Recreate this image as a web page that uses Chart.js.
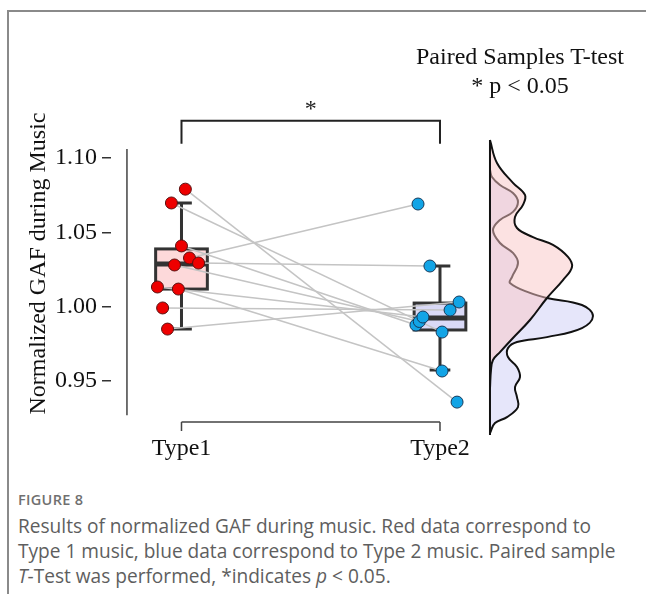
<!DOCTYPE html>
<html>
<head>
<meta charset="utf-8">
<script src="https://cdn.jsdelivr.net/npm/chart.js@4/dist/chart.umd.min.js"></script>
<style>
  html,body{margin:0;padding:0;background:#fff;}
  #wrap{position:relative;width:646px;height:594px;overflow:hidden;}
  #frame{position:absolute;left:7px;top:10px;right:-10px;bottom:-10px;border-left:2px solid #8a8a8a;border-top:2px solid #8a8a8a;}
  #chart{position:absolute;left:0;top:0;}
  .ttl{position:absolute;left:400px;width:240px;text-align:center;font-family:"Liberation Serif",serif;font-size:24px;color:#111;}
  #cap{position:absolute;left:18px;top:490px;font-family:"Open Sans",sans-serif;color:#5e5e5e;white-space:nowrap;}
  #cap .fig{font-size:14.5px;font-weight:600;letter-spacing:0.3px;color:#707070;margin-bottom:5px;}
  #cap p{margin:0;font-size:19.1px;line-height:25px;}
</style>
</head>
<body>
<div id="wrap">
  <div id="frame"></div>
  <canvas id="chart" width="646" height="470"></canvas>
  <div class="ttl" style="top:43px">Paired Samples T-test</div>
  <div class="ttl" style="top:72px">* p &lt; 0.05</div>
  <div id="cap">
    <div class="fig">FIGURE 8</div>
    <p>Results of normalized GAF during music. Red data correspond to<br>Type 1 music, blue data correspond to Type 2 music. Paired sample<br><i>T</i>-Test was performed, *indicates <i>p</i> &lt; 0.05.</p>
  </div>
</div>
<script>
// groups
const CATEGORIES = ["Type1", "Type2"];
const GROUP_X = [1, 2];
const Y_TICKS = [1.10, 1.05, 1.00, 0.95];

// paired values (same subject at same index)
const TYPE1 = [1.079, 1.0697, 1.0408, 1.0327, 1.0293, 1.028, 1.0132, 1.0118, 0.9991, 0.9849];
const TYPE2 = [0.9358, 0.9829, 0.9876, 1.069, 1.0273, 0.990, 0.9930, 0.9567, 0.9977, 1.0031];
// horizontal jitter of the dots (x units)
const JIT1 = [0.015, -0.039, 0.0, 0.031, 0.066, -0.027, -0.093, -0.012, -0.073, -0.054];
const JIT2 = [0.066, 0.008, -0.093, -0.085, -0.039, -0.08, -0.066, 0.008, 0.039, 0.074];

// box stats: [whiskerLow, q1, median, q3, whiskerHigh]
const BOX1 = [0.985, 1.0118, 1.0287, 1.0388, 1.0697];
const BOX2 = [0.9573, 0.9843, 0.9923, 1.0024, 1.0273];

// density curves on the right (value, relative density)
const DENS1_Y = [1.1121, 1.0966, 1.0832, 1.0751, 1.0684, 1.0603, 1.0529, 1.0468, 1.0415, 1.0334, 1.0267, 1.0179, 1.0058, 0.9910, 0.9789, 0.9694, 0.9641, 0.9573, 0.945];
const DENS1_D = [0, 0.07, 0.23, 0.35, 0.33, 0.25, 0.27, 0.43, 0.63, 0.78, 0.82, 0.73, 0.57, 0.40, 0.23, 0.10, 0.03, 0.01, 0];
const DENS2_Y = [1.092, 1.0872, 1.0818, 1.0764, 1.0704, 1.0637, 1.0583, 1.0515, 1.0428, 1.0361, 1.0293, 1.0199, 1.0159, 1.0092, 1.0058, 1.0011, 0.9937, 0.9856, 0.9795, 0.9762, 0.9721, 0.9661, 0.9594, 0.9526, 0.9459, 0.9392, 0.9324, 0.9257, 0.9217, 0.9149];
const DENS2_D = [0, 0.02, 0.10, 0.23, 0.28, 0.23, 0.10, 0.03, 0.10, 0.23, 0.28, 0.22, 0.20, 0.40, 0.57, 0.92, 1.03, 0.92, 0.57, 0.27, 0.18, 0.18, 0.27, 0.30, 0.25, 0.27, 0.28, 0.17, 0.05, 0];

const DENS_BASE = 2.1934;   // x where density axis sits
const DENS_SCALE = 0.3868;  // x units per unit density
const DENS_TOP = 1.1121, DENS_BOT = 0.9136;
const YAXIS_X = 0.789, YAXIS_TOP = 1.106, YAXIS_BOT = 0.927;
const XAXIS_Y = 0.9224;
const BRACKET_Y = 1.125, BRACKET_DROP = 1.1095, STAR_Y = 1.1325;

const SERIF = '"Liberation Serif", "Times New Roman", serif';

function densPoints(ys, ds){
  return ys.map((v,i)=>({x: DENS_BASE + ds[i]*DENS_SCALE, y: v}));
}

const pairSets = TYPE1.map((v,i)=>({
  type:"line",
  data:[{x:GROUP_X[0]+JIT1[i], y:v},{x:GROUP_X[1]+JIT2[i], y:TYPE2[i]}],
  borderColor:"#c4c4c4", borderWidth:1.5, pointRadius:0, fill:false, order:3
}));

const boxPlugin = {
  id:"boxes",
  beforeDatasetsDraw(chart){
    const {ctx, scales:{x,y}} = chart;
    [BOX1, BOX2].forEach((b,i)=>{
      const cx = x.getPixelForValue(GROUP_X[i]);
      const l = x.getPixelForValue(GROUP_X[i]-0.1), r = x.getPixelForValue(GROUP_X[i]+0.1);
      const cl = x.getPixelForValue(GROUP_X[i]-0.04), cr = x.getPixelForValue(GROUP_X[i]+0.04);
      ctx.save();
      ctx.strokeStyle = "#333";
      ctx.lineWidth = 3;
      // whiskers
      ctx.beginPath();
      ctx.moveTo(cx, y.getPixelForValue(b[0])); ctx.lineTo(cx, y.getPixelForValue(b[1]));
      ctx.moveTo(cx, y.getPixelForValue(b[3])); ctx.lineTo(cx, y.getPixelForValue(b[4]));
      ctx.moveTo(cl, y.getPixelForValue(b[0])); ctx.lineTo(cr, y.getPixelForValue(b[0]));
      ctx.moveTo(cl, y.getPixelForValue(b[4])); ctx.lineTo(cr, y.getPixelForValue(b[4]));
      ctx.stroke();
      // box
      const top = y.getPixelForValue(b[3]), bot = y.getPixelForValue(b[1]);
      ctx.fillStyle = i===0 ? "#fdd9da" : "#d9d9f6";
      ctx.fillRect(l, top, r-l, bot-top);
      ctx.strokeRect(l, top, r-l, bot-top);
      // median
      ctx.lineWidth = 5;
      ctx.beginPath();
      ctx.moveTo(l, y.getPixelForValue(b[2])); ctx.lineTo(r, y.getPixelForValue(b[2]));
      ctx.stroke();
      ctx.restore();
    });
    // axis lines
    ctx.save();
    ctx.strokeStyle = "#444";
    ctx.lineWidth = 1.5;
    ctx.beginPath();
    const ax = x.getPixelForValue(YAXIS_X);
    ctx.moveTo(ax, y.getPixelForValue(YAXIS_TOP)); ctx.lineTo(ax, y.getPixelForValue(YAXIS_BOT));
    const ay = y.getPixelForValue(XAXIS_Y);
    ctx.moveTo(x.getPixelForValue(GROUP_X[0]), ay); ctx.lineTo(x.getPixelForValue(GROUP_X[1]), ay);
    GROUP_X.forEach(g=>{
      ctx.moveTo(x.getPixelForValue(g), ay); ctx.lineTo(x.getPixelForValue(g), ay+9);
    });
    ctx.stroke();
    ctx.restore();
  },
  afterDatasetsDraw(chart){
    const {ctx, scales:{x,y}} = chart;
    const x1 = x.getPixelForValue(GROUP_X[0]), x2 = x.getPixelForValue(GROUP_X[1]);
    ctx.save();
    ctx.strokeStyle = "#222";
    ctx.lineWidth = 2;
    ctx.beginPath();
    ctx.moveTo(x1, y.getPixelForValue(BRACKET_DROP));
    ctx.lineTo(x1, y.getPixelForValue(BRACKET_Y));
    ctx.lineTo(x2, y.getPixelForValue(BRACKET_Y));
    ctx.lineTo(x2, y.getPixelForValue(BRACKET_DROP));
    ctx.stroke();
    ctx.fillStyle = "#222";
    ctx.font = "24px " + SERIF;
    ctx.textAlign = "center";
    ctx.textBaseline = "middle";
    ctx.fillText("*", (x1+x2)/2, y.getPixelForValue(STAR_Y));
    ctx.restore();
  }
};

new Chart(document.getElementById("chart"), {
  type:"scatter",
  data:{
    datasets:[
      { type:"scatter", data:TYPE1.map((v,i)=>({x:GROUP_X[0]+JIT1[i], y:v})),
        pointRadius:6, pointBackgroundColor:"#ee0000", pointBorderColor:"#5a1010", pointBorderWidth:1, order:1 },
      { type:"scatter", data:TYPE2.map((v,i)=>({x:GROUP_X[1]+JIT2[i], y:v})),
        pointRadius:6, pointBackgroundColor:"#12a4e6", pointBorderColor:"#163a5a", pointBorderWidth:1, order:1 },
      ...pairSets,
      { type:"line", data:[{x:DENS_BASE,y:DENS_TOP},{x:DENS_BASE,y:DENS_BOT}],
        borderColor:"#111", borderWidth:2, pointRadius:0, fill:false, order:4 },
      { type:"line", data:densPoints(DENS1_Y, DENS1_D), borderColor:"#111", borderWidth:2,
        backgroundColor:"rgba(250,198,198,0.5)", fill:"shape", tension:0.4, pointRadius:0, order:5 },
      { type:"line", data:densPoints(DENS2_Y, DENS2_D), borderColor:"#111", borderWidth:2,
        backgroundColor:"rgba(200,200,245,0.45)", fill:"shape", tension:0.4, pointRadius:0, order:6 }
    ]
  },
  options:{
    responsive:false,
    devicePixelRatio:1,
    animation:false,
    layout:{ padding:{ left:24, top:91, right:46, bottom:0 } },
    plugins:{ legend:{display:false}, tooltip:{enabled:false} },
    scales:{
      x:{
        type:"linear", min:0.7273, max:2.619,
        afterBuildTicks(s){ s.ticks = GROUP_X.map(v=>({value:v})); },
        afterFit(s){ s.height = 34; },
        grid:{display:false, drawTicks:false}, border:{display:false},
        ticks:{ padding:-2, color:"#111", font:{family:SERIF, size:24},
          callback:(v,i)=>CATEGORIES[i] }
      },
      y:{
        min:0.913, max:1.145,
        afterBuildTicks(s){ s.ticks = Y_TICKS.map(v=>({value:v})); },
        afterFit(s){ s.width = 87; },
        grid:{ drawOnChartArea:false, drawTicks:true, tickLength:9, color:"#333", lineWidth:1.5 },
        border:{display:false},
        ticks:{ padding:5, color:"#111", font:{family:SERIF, size:24},
          callback:v=>v.toFixed(2) },
        title:{ display:true, text:"Normalized GAF during Music", color:"#111",
          padding:0, font:{family:SERIF, size:24} }
      }
    }
  },
  plugins:[boxPlugin]
});
</script>
</body>
</html>
